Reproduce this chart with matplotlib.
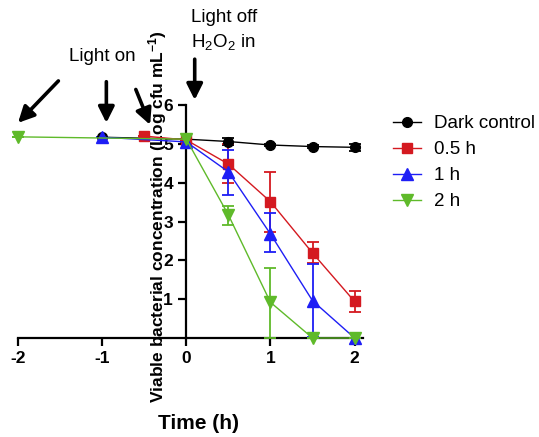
import numpy as np
import matplotlib.pyplot as plt
from matplotlib.lines import Line2D

plt.rcParams['font.family'] = ['Liberation Sans', 'DejaVu Sans']
plt.rcParams['mathtext.fontset'] = 'custom'
plt.rcParams['mathtext.rm'] = 'Liberation Sans'
plt.rcParams['mathtext.bf'] = 'Liberation Sans:bold'
plt.rcParams['axes.unicode_minus'] = False

# data
dark_x = [-1, 0, 0.5, 1, 1.5, 2]
dark_y = [5.17, 5.12, 5.06, 4.97, 4.93, 4.91]
dark_err = [0, 0, 0.1, 0.03, 0.03, 0.09]

h05_x = [-0.5, 0, 0.5, 1, 1.5, 2]
h05_y = [5.2, 5.1, 4.48, 3.51, 2.19, 0.94]
h05_lo = [0, 0, 0.48, 0.77, 0.27, 0.28]
h05_hi = [0, 0, 0.52, 0.77, 0.29, 0.26]

h1_x = [-1, 0, 0.5, 1, 1.5, 2]
h1_y = [5.17, 5.05, 4.28, 2.68, 0.96, 0.0]
h1_lo = [0, 0, 0.6, 0.47, 0.93, 0]
h1_hi = [0, 0, 0.56, 0.55, 0.94, 0]

h2_x = [-2, 0, 0.5, 1, 1.5, 2]
h2_y = [5.18, 5.12, 3.17, 0.92, 0.0, 0.0]
h2_lo = [0, 0, 0.26, 0.92, 0, 0]
h2_hi = [0, 0, 0.23, 0.88, 0, 0]

labels = ['Dark control', '0.5 h', '1 h', '2 h']
colors = ['black', '#D41920', '#1E1EF5', '#5FBA2A']
markers = ['o', 's', '^', 'v']

fig = plt.figure(figsize=(5.39, 4.37), dpi=100)
ax = fig.add_axes([18 / 539, 1 - 338 / 437, 345 / 539, 233 / 437])

series = [
    (dark_x, dark_y, [dark_err, dark_err], 7),
    (h05_x, h05_y, [h05_lo, h05_hi], 7),
    (h1_x, h1_y, [h1_lo, h1_hi], 8),
    (h2_x, h2_y, [h2_lo, h2_hi], 8),
]
handles = []
for (x, y, err, ms), lab, c, m in zip(series, labels, colors, markers):
    eb = ax.errorbar(x, y, yerr=err, color=c, marker=m, markersize=ms,
                     lw=1.0, elinewidth=1.3, capsize=4, capthick=1.3,
                     clip_on=False, zorder=3)
    for art in eb.lines[1] + eb.lines[2]:
        art.set_clip_on(False)
    handles.append(Line2D([], [], color=c, marker=m, markersize=ms, lw=1.0,
                          label=lab))

ax.set_xlim(-2, 2.1)
ax.set_ylim(0, 6)
ax.spines['top'].set_visible(False)
ax.spines['right'].set_visible(False)
ax.spines['left'].set_position(('data', 0))
ax.spines['left'].set_bounds(0, 6)
ax.spines['left'].set_linewidth(1.6)
ax.spines['bottom'].set_linewidth(1.6)
ax.set_xticks([-2, -1, 0, 1, 2])
ax.set_yticks([1, 2, 3, 4, 5, 6])
ax.tick_params(axis='both', width=1.6, length=6, labelsize=12.5)
for t in ax.get_xticklabels() + ax.get_yticklabels():
    t.set_fontweight('bold')

ax.set_xlabel('Time (h)', fontsize=15, fontweight='bold', va='top')
ax.xaxis.set_label_coords(0.522, -0.325)
ax.text(0.405, 0.52, r'Viable bacterial concentration (Log cfu mL$\mathbf{^{-1}}$)',
        transform=ax.transAxes, rotation=90, ha='center', va='center',
        fontsize=12.5, fontweight='bold')

# annotations
arrow = dict(arrowstyle='-|>', lw=2.6, color='black', mutation_scale=24,
             shrinkA=0, shrinkB=0)
ax.annotate('', xy=(-2, 5.54), xytext=(-1.52, 6.62), arrowprops=arrow,
            annotation_clip=False)
ax.annotate('', xy=(-0.95, 5.54), xytext=(-0.95, 6.6), arrowprops=arrow,
            annotation_clip=False)
ax.annotate('', xy=(-0.43, 5.49), xytext=(-0.6, 6.4), arrowprops=arrow,
            annotation_clip=False)
ax.annotate('', xy=(0.1, 6.13), xytext=(0.1, 7.18), arrowprops=arrow,
            annotation_clip=False)
ax.text(-1.0, 7.24, 'Light on', ha='center', va='center', fontsize=13.5)
ax.text(0.06, 8.26, 'Light off', ha='left', va='center', fontsize=13.5)
ax.text(0.06, 7.6, r'H$_2$O$_2$ in', ha='left', va='center', fontsize=13.5)

fig.legend(handles=handles, loc='upper left',
           bbox_to_anchor=(393 / 539, 1 - 115 / 437),
           frameon=False, fontsize=13.5, borderpad=0, borderaxespad=0,
           handlelength=1.5, handletextpad=0.7, labelspacing=0.48)

plt.savefig('out.png', dpi=100)
